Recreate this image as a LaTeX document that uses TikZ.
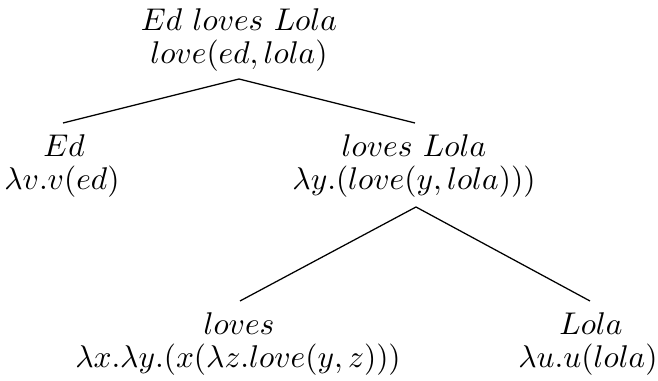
\documentclass[tikz,border=0pt]{standalone}
\begin{document}
\begin{tikzpicture}[x=0.31847pt,y=-0.31847pt,
  lbl/.style={anchor=base,inner sep=0pt,outer sep=0pt,font=\fontsize{10}{12}\selectfont},
  branch/.style={line width=0.4pt}]
\useasboundingbox (0,0) rectangle (658,381);
% root
\node[lbl] (w0) at (239,31) {$Ed\ loves\ Lola$};
\node[lbl] (s0) at (239,64) {$love(ed,lola)$};
% Ed
\node[lbl] (w1) at (64,157) {$Ed$};
\node[lbl] (s1) at (62,190) {$\lambda v.v(ed)$};
% loves Lola
\node[lbl] (w2) at (414,157) {$loves\ Lola$};
\node[lbl] (s2) at (414,190) {$\lambda y.(love(y,lola)))$};
% loves
\node[lbl] (w3) at (239,335) {$loves$};
\node[lbl] (s3) at (238,368) {$\lambda x.\lambda y.(x(\lambda z.love(y,z)))$};
% Lola
\node[lbl] (w4) at (591,335) {$Lola$};
\node[lbl] (s4) at (588,368) {$\lambda u.u(lola)$};
% branch points
\coordinate (a0) at (239,79);
\coordinate (c1) at (63,123);
\coordinate (c2) at (415,123);
\coordinate (a2) at (416,207);
\coordinate (c3) at (240,301);
\coordinate (c4) at (590,301);
\draw[branch] (c1) -- (a0) -- (c2);
\draw[branch] (c3) -- (a2) -- (c4);
\end{tikzpicture}
\end{document}
